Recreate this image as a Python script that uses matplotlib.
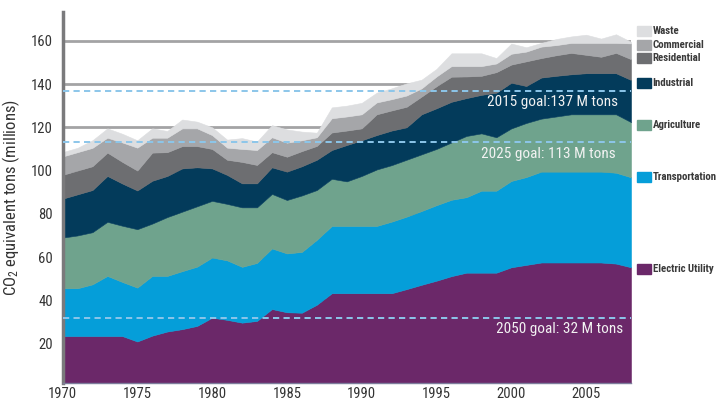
import numpy as np
import matplotlib.pyplot as plt
from matplotlib import font_manager, transforms
from matplotlib.patches import Rectangle

# pick a narrow sans if there is one
names = {f.name for f in font_manager.fontManager.ttflist}
narrow = next((n for n in ['Liberation Sans Narrow', 'Roboto Condensed', 'DejaVu Sans'] if n in names), 'DejaVu Sans')
plt.rcParams['font.family'] = [narrow, 'DejaVu Sans']
plt.rcParams['mathtext.default'] = 'regular'

years = np.arange(1970, 2009)

# emissions by sector, million tons CO2 equivalent
electric = [23.5, 23.5, 23.5, 23.5, 23.5, 21.0, 23.7, 25.6, 26.7, 28.2,
            32.0, 31.0, 29.7, 30.5, 36.0, 34.5, 34.3, 38.0, 43.3, 43.3,
            43.3, 43.3, 43.3, 45.2, 47.2, 49.1, 51.2, 52.8, 52.8, 52.8,
            55.3, 56.4, 57.5, 57.5, 57.5, 57.5, 57.5, 57.0, 55.3]
transport = [22.1, 22.1, 23.9, 27.8, 25.0, 24.9, 27.6, 25.7, 26.8, 27.4,
             27.8, 27.5, 25.8, 26.8, 28.0, 27.2, 28.1, 30.0, 31.1, 31.1,
             31.1, 31.1, 33.1, 33.5, 34.1, 34.9, 35.3, 34.9, 37.9, 37.9,
             39.9, 40.6, 42.0, 42.0, 42.0, 42.0, 42.0, 42.0, 41.6]
agriculture = [23.4, 24.4, 24.1, 25.0, 26.0, 27.0, 24.2, 27.2, 27.5, 27.9,
               26.2, 26.1, 27.5, 25.7, 25.2, 24.7, 26.1, 23.0, 21.8, 20.6,
               23.1, 26.1, 26.1, 26.3, 26.2, 26.0, 26.5, 28.3, 26.5, 24.7,
               24.3, 25.0, 24.5, 25.5, 26.5, 26.5, 26.5, 27.0, 25.5]
industrial = [18.0, 19.0, 19.5, 21.2, 19.5, 17.9, 19.8, 19.0, 20.0, 18.0,
              15.0, 13.4, 11.1, 11.1, 12.3, 13.1, 13.5, 14.0, 13.3, 16.8,
              16.5, 15.9, 16.0, 15.0, 18.5, 18.8, 18.8, 17.5, 17.8, 20.6,
              21.1, 17.1, 19.0, 18.8, 18.5, 19.0, 19.0, 19.0, 19.5]
residential = [11.0, 11.0, 11.0, 10.8, 10.0, 9.2, 13.0, 11.0, 10.3, 9.8,
               9.0, 7.0, 9.9, 8.5, 7.0, 6.9, 7.0, 6.4, 8.1, 6.7,
               5.5, 9.6, 9.3, 9.5, 8.2, 10.2, 11.6, 10.0, 8.8, 9.5,
               8.4, 11.4, 9.0, 9.5, 9.9, 8.5, 7.6, 9.4, 9.6]
commercial = [8.5, 8.5, 8.5, 6.9, 9.0, 10.6, 6.9, 6.7, 8.2, 8.2,
              6.4, 5.6, 6.0, 6.9, 6.9, 6.5, 5.0, 4.0, 6.6, 6.5,
              6.5, 5.5, 5.2, 5.2, 3.8, 4.5, 4.9, 4.8, 4.5, 4.0,
              5.0, 4.5, 5.3, 4.7, 4.6, 5.5, 6.4, 4.6, 7.3]
waste = [2.0, 2.0, 3.5, 4.3, 4.0, 3.4, 4.3, 3.1, 4.1, 3.1,
         3.6, 3.7, 5.0, 3.9, 5.6, 6.1, 4.0, 2.1, 5.0, 5.0,
         5.3, 4.5, 5.0, 5.6, 4.0, 3.5, 5.9, 5.9, 5.9, 2.5,
         4.7, 2.0, 1.7, 2.8, 3.0, 3.8, 2.0, 4.0, 0.7]

sectors = ['Electric Utility', 'Transportation', 'Agriculture', 'Industrial',
           'Residential', 'Commercial', 'Waste']
colors = ['#6b2869', '#059ed9', '#6fa38d', '#033b5b', '#6d6e71', '#a5a6a9', '#dddee0']
label_y = [54.5, 97, 121, 140.5, 152, 158, 164.5]

goals = [137, 113, 32]
goal_text = ['2015 goal:137 M tons', '2025 goal: 113 M tons', '2050 goal: 32 M tons']
goal_x = [2007.1, 2007.0, 2007.45]

fig = plt.figure(figsize=(7.25, 4.05), dpi=100)
ax = fig.add_axes([62.5/725, 22/405, (631-62.5)/725, (383-12)/405])

stacks = ax.stackplot(years, electric, transport, agriculture, industrial,
                      residential, commercial, waste, colors=colors, zorder=2)
for s, c in zip(stacks, colors):
    s.set_edgecolor(c)
    s.set_linewidth(0.4)

# goal lines
for g, t, gx in zip(goals, goal_text, goal_x):
    ax.axhline(g, color='#8cc6ea', lw=1.4, ls=(0, (3.2, 2.2)), zorder=3)
    ax.annotate(t, xy=(gx, g), xytext=(0, -8), textcoords='offset points',
                ha='right', va='center', color='#f2f2f2', fontsize=11, zorder=4)

ax.set_xlim(1970, 2008)
ax.set_ylim(1.8, 173.3)
ax.set_xticks(range(1970, 2010, 5))
ax.set_yticks(range(20, 180, 20))
ax.grid(axis='y', color='#a3a3a5', lw=2)
ax.set_axisbelow(True)
ax.tick_params(length=0, labelsize=10.5, colors='#333333')
ax.tick_params(axis='y', pad=7)
ax.tick_params(axis='x', pad=3)

for side in ['top', 'right']:
    ax.spines[side].set_visible(False)
ax.spines['left'].set_color('#7a7a7c')
ax.spines['left'].set_linewidth(2.5)
ax.spines['bottom'].set_color('#7d7d9c')
ax.spines['bottom'].set_linewidth(1)

ax.set_ylabel('CO$_2$ equivalent tons (millions)', fontsize=12, color='#333333', labelpad=6)

# legend boxes at the right edge
trans = transforms.blended_transform_factory(ax.transAxes, ax.transData)
for name, c, y in zip(sectors, colors, label_y):
    ax.add_patch(Rectangle((1.0106, y - 2.3), 0.0246, 4.6, transform=trans,
                           color=c, clip_on=False))
    ax.text(1.038, y, name, transform=trans, fontsize=7.8, fontweight='semibold',
            color='#3a3a3a', va='center', ha='left', clip_on=False)

plt.savefig('out.png', dpi=100)
